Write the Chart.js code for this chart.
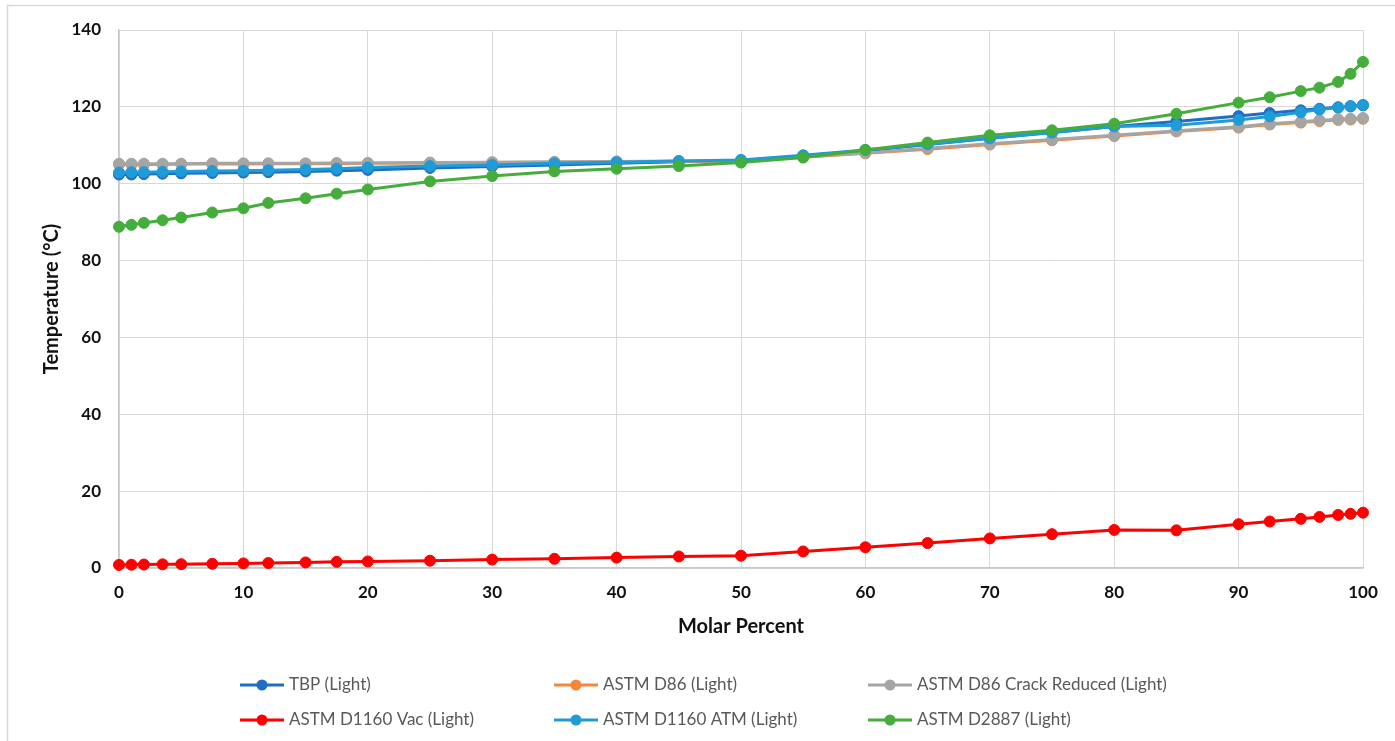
<!DOCTYPE html>
<html>
<head>
<meta charset="utf-8">
<script src="https://cdn.jsdelivr.net/npm/chart.js@4/dist/chart.umd.min.js"></script>
<style>
  html, body { margin: 0; padding: 0; background: #fff; overflow: hidden; }
  canvas { display: block; }
</style>
</head>
<body>
<canvas id="chart" width="1395" height="741"></canvas>
<script>
var molarPct = [0, 1, 2, 3.5, 5, 7.5, 10, 12, 15, 17.5, 20, 25, 30, 35, 40, 45, 50, 55, 60, 65, 70, 75, 80, 85, 90, 92.5, 95, 96.5, 98, 99, 100];

var tbpLight = [102.4, 102.4, 102.5, 102.6, 102.7, 102.8, 102.9, 103.0, 103.2, 103.4, 103.6, 104.1, 104.5, 104.9, 105.3, 105.7, 106.0, 107.3, 108.6, 110.2, 111.8, 113.3, 114.9, 116.2, 117.6, 118.4, 119.1, 119.5, 119.9, 120.1, 120.4];
var d86Light = [105.0, 105.0, 105.0, 105.0, 105.1, 105.1, 105.1, 105.2, 105.2, 105.2, 105.3, 105.4, 105.5, 105.6, 105.7, 105.8, 105.9, 106.9, 107.9, 109.0, 110.2, 111.3, 112.4, 113.6, 114.6, 115.4, 115.9, 116.3, 116.6, 116.7, 116.9];
var d86CrackLight = [105.2, 105.2, 105.2, 105.2, 105.2, 105.3, 105.3, 105.3, 105.3, 105.4, 105.4, 105.5, 105.6, 105.7, 105.8, 105.9, 106.0, 107.0, 108.0, 109.2, 110.4, 111.5, 112.6, 113.8, 114.8, 115.6, 116.1, 116.5, 116.8, 116.9, 117.1];
var d1160VacLight = [0.8, 0.85, 0.9, 0.95, 1.0, 1.1, 1.2, 1.3, 1.45, 1.6, 1.7, 1.9, 2.2, 2.4, 2.7, 3.0, 3.2, 4.3, 5.4, 6.5, 7.7, 8.8, 9.9, 9.8, 11.4, 12.1, 12.8, 13.3, 13.8, 14.1, 14.4];
var d1160AtmLight = [102.9, 103.0, 103.0, 103.1, 103.2, 103.3, 103.4, 103.5, 103.7, 103.9, 104.2, 104.6, 104.9, 105.3, 105.6, 105.9, 106.2, 107.4, 108.8, 110.3, 111.8, 113.3, 114.9, 115.2, 116.6, 117.5, 118.6, 119.3, 119.8, 120.2, 120.5];
var d2887Light = [88.8, 89.3, 89.8, 90.5, 91.2, 92.5, 93.6, 95.0, 96.2, 97.4, 98.5, 100.6, 102.0, 103.2, 103.9, 104.6, 105.5, 106.8, 108.8, 110.7, 112.6, 113.9, 115.6, 118.2, 121.1, 122.5, 124.1, 125.0, 126.5, 128.6, 131.7];

var seriesNames = ['TBP (Light)', 'ASTM D86 (Light)', 'ASTM D86 Crack Reduced (Light)', 'ASTM D1160 Vac (Light)', 'ASTM D1160 ATM (Light)', 'ASTM D2887 (Light)'];
var seriesValues = [tbpLight, d86Light, d86CrackLight, d1160VacLight, d1160AtmLight, d2887Light];
var seriesColors = ['#1f6dc4', '#f5873a', '#a5a5a5', '#ff0000', '#1f9bd8', '#44ad3b'];

function makeDataset(i) {
  return {
    label: seriesNames[i],
    data: molarPct.map(function (x, j) { return { x: x, y: seriesValues[i][j] }; }),
    borderColor: seriesColors[i],
    backgroundColor: seriesColors[i],
    pointBackgroundColor: seriesColors[i],
    pointBorderColor: seriesColors[i],
    borderWidth: 3,
    pointRadius: 5.5,
    pointBorderWidth: 1,
    tension: 0,
    fill: false,
    clip: false,
    order: seriesNames.length - 1 - i // later series on top, like the original
  };
}

var datasets = [];
for (var i = 0; i < seriesNames.length; i++) {
  datasets.push(makeDataset(i));
}

// frame + two-row legend laid out in fixed columns
var framePlugin = {
  id: 'frame',
  beforeDraw: function (chart) {
    var ctx = chart.ctx;
    ctx.save();
    ctx.fillStyle = '#fff';
    ctx.fillRect(0, 0, chart.width, chart.height);
    ctx.strokeStyle = '#d9d9d9';
    ctx.lineWidth = 1.5;
    ctx.strokeRect(7.5, 5.5, chart.width + 20, chart.height + 20);
    ctx.restore();
  },
  afterDraw: function (chart) {
    var ctx = chart.ctx;
    var colX = [240, 554, 868];
    var rowY = [685, 720];
    ctx.save();
    ctx.font = '17px Lato';
    ctx.textBaseline = 'middle';
    ctx.textAlign = 'left';
    chart.data.datasets.forEach(function (ds, k) {
      var x = colX[k % 3];
      var y = rowY[Math.floor(k / 3)];
      ctx.strokeStyle = ds.borderColor;
      ctx.lineWidth = 3;
      ctx.beginPath();
      ctx.moveTo(x, y);
      ctx.lineTo(x + 44, y);
      ctx.stroke();
      ctx.fillStyle = ds.borderColor;
      ctx.beginPath();
      ctx.arc(x + 22, y, 5.5, 0, Math.PI * 2);
      ctx.fill();
      ctx.fillStyle = '#595959';
      ctx.fillText(ds.label, x + 49, y);
    });
    ctx.restore();
  }
};

new Chart(document.getElementById('chart').getContext('2d'), {
  type: 'line',
  data: { datasets: datasets },
  plugins: [framePlugin],
  options: {
    responsive: false,
    animation: false,
    layout: { padding: { top: 30, right: 32, bottom: 101, left: 0 } },
    plugins: {
      legend: { display: false },
      tooltip: { enabled: false }
    },
    scales: {
      x: {
        type: 'linear',
        min: 0,
        max: 100,
        ticks: {
          stepSize: 10,
          padding: 14,
          color: '#111',
          font: { family: 'Lato', size: 17, weight: 'bold' }
        },
        grid: { color: '#d9d9d9', lineWidth: 1, drawTicks: false },
        border: { color: '#c8c8c8', width: 1.5 },
        title: {
          display: true,
          text: 'Molar Percent',
          color: '#111',
          font: { family: 'Lato', size: 20, weight: 'bold' },
          padding: { top: 0, bottom: 1 }
        },
        afterFit: function (s) { s.height = 72; }
      },
      y: {
        min: 0,
        max: 140,
        ticks: {
          stepSize: 20,
          padding: 18,
          color: '#111',
          font: { family: 'Lato', size: 17, weight: 'bold' }
        },
        grid: { color: '#d9d9d9', lineWidth: 1, drawTicks: false },
        border: { color: '#c8c8c8', width: 1.5 },
        title: {
          display: true,
          text: 'Temperature (°C)',
          color: '#111',
          font: { family: 'Lato', size: 20, weight: 'bold' },
          padding: { top: 40, bottom: 0 }
        },
        afterFit: function (s) { s.width = 119; }
      }
    }
  }
});
</script>
</body>
</html>
